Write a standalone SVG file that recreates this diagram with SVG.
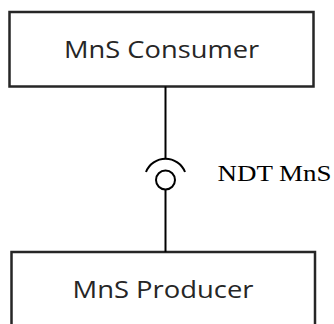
<svg xmlns="http://www.w3.org/2000/svg" width="334" height="324" viewBox="0 0 334 324">
<style>
.box{fill:#fff;stroke:#262626;stroke-width:2.5}
.lbl{font-family:"Open Sans","Noto Sans",sans-serif;font-size:24px;fill:#262626;text-anchor:middle}
.conn{fill:none;stroke:#000;stroke-width:2}
.iface{font-family:"Liberation Serif","Times New Roman",serif;font-size:24px;fill:#000}
</style>
<rect width="334" height="324" fill="#fff"/>
<g id="consumer">
<rect class="box" x="9.5" y="12" width="304" height="74.5"/>
<text class="lbl" x="161.6" y="58.3" textLength="195" lengthAdjust="spacingAndGlyphs">MnS Consumer</text>
</g>
<g id="producer">
<rect class="box" x="11.5" y="252" width="303.5" height="100"/>
<text class="lbl" x="163" y="298.3" textLength="181" lengthAdjust="spacingAndGlyphs">MnS Producer</text>
</g>
<g id="connectors">
<line class="conn" x1="165.5" y1="86.5" x2="165.5" y2="159"/>
<path class="conn" d="M146,172 A21,21 0 0 1 185,172"/>
<circle class="conn" cx="165.5" cy="180" r="9.5"/>
<line class="conn" x1="165.5" y1="189.5" x2="165.5" y2="252"/>
</g>
<g id="label-ndt">
<text class="iface" x="217.5" y="181" textLength="114" lengthAdjust="spacingAndGlyphs">NDT MnS</text>
</g>
</svg>
